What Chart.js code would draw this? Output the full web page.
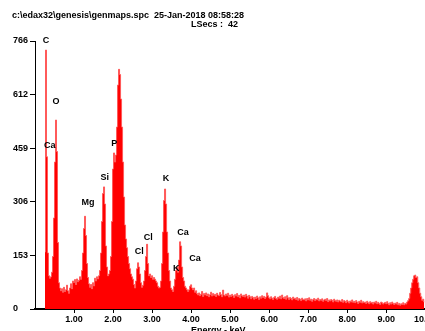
<!DOCTYPE html>
<html>
<head>
<meta charset="utf-8">
<script src="https://cdn.jsdelivr.net/npm/chart.js@4/dist/chart.umd.min.js"></script>
<style>
  html, body { margin: 0; padding: 0; background: #fff; width: 425px; height: 331px; overflow: hidden; }
  #wrap { position: absolute; left: 0; top: 0; width: 435px; height: 340px; }
  .txt { position: absolute; font: bold 9px Arial, "Liberation Sans", sans-serif; color: #000; line-height: 10px; white-space: pre; }
</style>
</head>
<body>
<div id="wrap"><canvas id="c"></canvas></div>
<div class="txt" id="h1" style="left:12px; top:10px;"></div>
<div class="txt" id="h2" style="left:191px; top:19px;"></div>
<div class="txt" id="xt" style="left:191px; top:325px;"></div>
<script>
// ---- text ----
const headerLine1 = "c:\\edax32\\genesis\\genmaps.spc  25-Jan-2018 08:58:28";
const headerLine2 = "LSecs :  42";
const xAxisTitle = "Energy - keV";

// ---- calibration (keV) ----
const energyStart = 0.2564;
const channelWidth = 0.02564;

// ---- spectrum counts per channel ----
const counts = [
  163, 740, 435, 160, 95, 88, 92, 105, 150, 260,
  420, 540, 450, 190, 75, 60, 52, 58, 48, 62,
  50, 55, 68, 52, 45, 60, 72, 58, 80, 76,
  84, 70, 86, 78, 82, 92, 85, 110, 160, 230,
  265, 210, 130, 90, 72, 62, 70, 58, 75, 66,
  88, 80, 92, 86, 95, 110, 160, 250, 330, 349,
  300, 180, 120, 95, 100, 110, 150, 250, 400, 446,
  420, 440, 520, 640, 685, 670, 600, 520, 420, 320,
  240, 200, 175, 150, 130, 115, 100, 92, 85, 70,
  60, 80, 115, 132, 120, 100, 75, 62, 68, 80,
  110, 150, 185, 130, 95, 100, 90, 95, 85, 90,
  85, 80, 75, 65, 60, 62, 80, 130, 220, 310,
  343, 300, 220, 160, 110, 80, 60, 55, 50, 65,
  85, 110, 120, 105, 140, 192, 180, 120, 90, 80,
  65, 60, 55, 50, 55, 65, 69, 60, 55, 60,
  48, 52, 44, 40, 46, 38, 42, 50, 36, 44,
  40, 46, 38, 43, 35, 41, 48, 37, 44, 39,
  42, 36, 45, 40, 38, 47, 41, 35, 54, 40,
  37, 43, 39, 45, 34, 40, 36, 42, 38, 33,
  41, 37, 44, 35, 39, 32, 43, 38, 36, 40,
  34, 42, 37, 31, 39, 35, 29, 36, 33, 28,
  34, 30, 37, 32, 27, 35, 31, 38, 33, 36,
  30, 34, 46, 38, 32, 29, 35, 31, 27, 33,
  36, 30, 28, 34, 31, 37, 29, 40, 33, 30,
  35, 28, 38, 32, 27, 33, 30, 26, 34, 29,
  31, 27, 33, 25, 30, 28, 24, 31, 27, 26,
  29, 23, 30, 26, 32, 25, 28, 22, 27, 30,
  24, 28, 26, 31, 23, 27, 25, 29, 22, 26,
  28, 24, 30, 21, 26, 23, 27, 25, 20, 28,
  24, 22, 26, 20, 25, 23, 21, 27, 19, 24,
  22, 18, 25, 21, 17, 23, 20, 26, 19, 22,
  18, 24, 20, 16, 22, 19, 25, 17, 21, 18,
  20, 16, 22, 18, 15, 21, 17, 19, 14, 20,
  17, 22, 15, 19, 16, 13, 20, 18, 14, 17,
  19, 15, 21, 16, 12, 18, 14, 20, 16, 13,
  17, 14, 19, 12, 16, 11, 15, 13, 18, 12,
  16, 14, 20, 24, 30, 45, 60, 75, 85, 95,
  97, 90, 92, 75, 60, 45, 35, 25, 28, 20
];

// ---- axes ----
const xMin = 0;
const xMax = 10.25;
const xTickValues = [1, 2, 3, 4, 5, 6, 7, 8, 9, 10];
const yMin = 0;
const yMax = 766;
const yTickValues = [0, 153, 306, 459, 612, 766];

// ---- peak labels ----
const peakLabels   = ['C', 'O', 'Ca', 'P', 'Si', 'Mg', 'Cl', 'Cl', 'K', 'Ca', 'K', 'Ca'];
const peakEnergies = [0.28, 0.54, 0.38, 2.03, 1.79, 1.36, 2.90, 2.67, 3.36, 3.79, 3.62, 4.10];
const peakCounts   = [766, 594, 466, 474, 377, 303, 203, 163, 372, 220, 117, 143];

document.getElementById('h1').textContent = headerLine1;
document.getElementById('h2').textContent = headerLine2;
document.getElementById('xt').textContent = xAxisTitle;

const FONT = { family: 'Arial, "Liberation Sans", sans-serif', size: 9, weight: 'bold' };

const points = counts.map((c, i) => ({ x: energyStart + i * channelWidth, y: c }));

const peakLabelPlugin = {
  id: 'peakLabels',
  afterDatasetsDraw(chart) {
    const { ctx, scales } = chart;
    ctx.save();
    ctx.font = 'bold 9px Arial, "Liberation Sans", sans-serif';
    ctx.fillStyle = '#000';
    ctx.textAlign = 'center';
    ctx.textBaseline = 'middle';
    peakLabels.forEach((t, i) => {
      ctx.fillText(t, scales.x.getPixelForValue(peakEnergies[i]), scales.y.getPixelForValue(peakCounts[i]));
    });
    ctx.restore();
  }
};

new Chart(document.getElementById('c'), {
  type: 'line',
  data: {
    datasets: [{
      data: points,
      parsing: false,
      fill: 'origin',
      backgroundColor: '#ff0000',
      borderColor: '#ff5a5a',
      borderWidth: 1,
      pointRadius: 0,
      stepped: 'middle',
      tension: 0
    }]
  },
  options: {
    responsive: true,
    maintainAspectRatio: false,
    animation: false,
    events: [],
    layout: { padding: { top: 41, left: 13, right: 0, bottom: 0 } },
    plugins: { legend: { display: false }, tooltip: { enabled: false }, title: { display: false } },
    scales: {
      x: {
        type: 'linear',
        min: xMin,
        max: xMax,
        afterBuildTicks: (s) => { s.ticks = xTickValues.map(v => ({ value: v })); },
        afterFit: (s) => { s.height = 31; s.paddingLeft = 0; s.paddingRight = 0; },
        ticks: {
          font: FONT, color: '#000', padding: 1, maxRotation: 0, autoSkip: false,
          callback: (v) => Number(v).toFixed(2)
        },
        grid: { drawOnChartArea: false, drawTicks: true, tickLength: 4, color: '#000' },
        border: { display: true, color: '#000', width: 2 }
      },
      y: {
        type: 'linear',
        min: yMin,
        max: yMax,
        afterBuildTicks: (s) => { s.ticks = yTickValues.map(v => ({ value: v })); },
        afterFit: (s) => { s.width = 22; s.paddingTop = 0; s.paddingBottom = 0; },
        ticks: { font: FONT, color: '#000', padding: 2, autoSkip: false, crossAlign: 'far', callback: (v) => String(v) },
        grid: { drawOnChartArea: false, drawTicks: true, tickLength: 5, color: '#000' },
        border: { display: true, color: '#000', width: 1 }
      }
    }
  },
  plugins: [peakLabelPlugin]
});
</script>
</body>
</html>
